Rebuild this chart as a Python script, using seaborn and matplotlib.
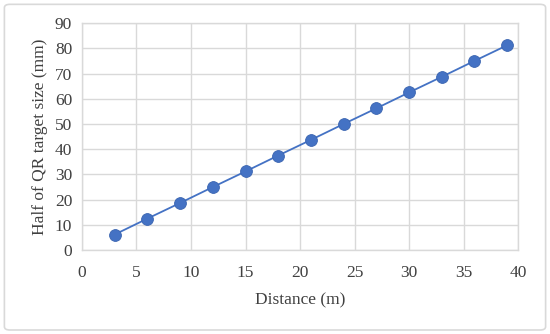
import matplotlib
matplotlib.use("Agg")
import matplotlib.pyplot as plt
import numpy as np
import pandas as pd
import seaborn as sns
from matplotlib.patches import FancyBboxPatch

# data
distance = [3, 6, 9, 12, 15, 18, 21, 24, 27, 30, 33, 36, 39]
half_size = [6.2, 12.5, 18.7, 25.0, 31.2, 37.5, 43.7, 50.0, 56.2, 62.5, 68.7, 75.0, 81.2]
x_ticks = [0, 5, 10, 15, 20, 25, 30, 35, 40]
y_ticks = [0, 10, 20, 30, 40, 50, 60, 70, 80, 90]

df = pd.DataFrame({"Distance (m)": distance, "Half of QR target size (mm)": half_size})

sns.set_theme(style="whitegrid")
plt.rcParams['font.family'] = ['Liberation Serif', 'DejaVu Serif']

fig = plt.figure(figsize=(5.5, 3.34), dpi=100)
ax = fig.add_axes([0.149, 0.251, 0.793, 0.680])

blue = "#4472C4"
sns.lineplot(data=df, x="Distance (m)", y="Half of QR target size (mm)", ax=ax,
             color=blue, lw=1.3, marker="o", markersize=8.5,
             markeredgecolor="#3A64B0", markeredgewidth=0.6)

ax.set_xlim(0, 40)
ax.set_ylim(0, 90)
ax.set_xticks(x_ticks)
ax.set_yticks(y_ticks)
ax.grid(True, color="#d9d9d9", lw=1)
for s in ax.spines.values():
    s.set_visible(True)
    s.set_color("#d9d9d9")
    s.set_linewidth(1)
ax.tick_params(axis="both", length=0, labelsize=12.5, colors="#404040")
ax.tick_params(axis="x", pad=11)
ax.tick_params(axis="y", pad=7)
ax.set_xlabel("Distance (m)", fontsize=12.5, color="#404040", labelpad=8)
ax.set_ylabel("Half of QR target size (mm)", fontsize=12.5, color="#404040", labelpad=5)
ax.set_facecolor("white")

border = FancyBboxPatch((0.008, 0.012), 0.984, 0.975, boxstyle="round,pad=0,rounding_size=0.01",
                        transform=fig.transFigure, fill=False, edgecolor="#d9d9d9", lw=1.2)
fig.patches.append(border)

fig.savefig("out.png", dpi=100)
